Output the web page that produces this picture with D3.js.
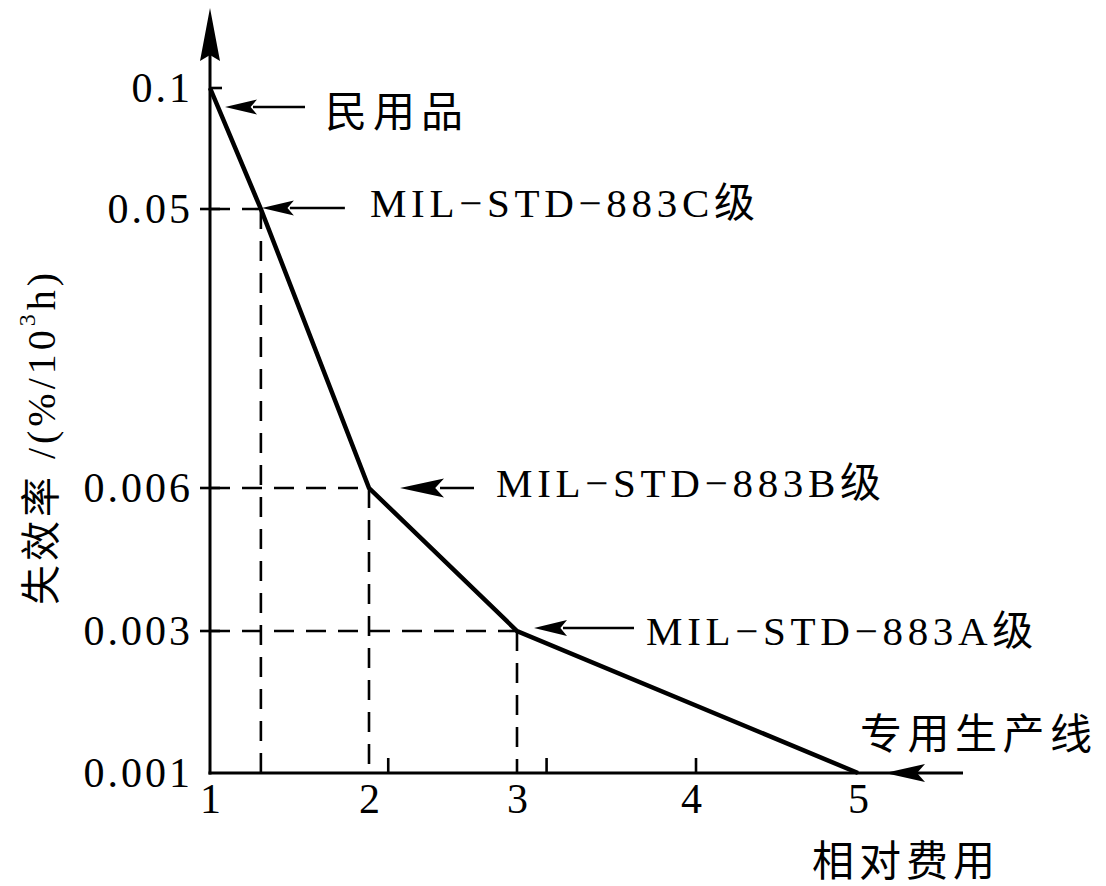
<!DOCTYPE html>
<html>
<head>
<meta charset="utf-8">
<script src="https://cdn.jsdelivr.net/npm/d3@7"></script>
<style>
  html, body { margin: 0; padding: 0; background: #fff; }
  svg { display: block; }
  text { font-family: "Liberation Serif", "Noto Sans CJK SC", serif; fill: #000; }
</style>
</head>
<body>
<svg id="chart" width="1106" height="886"></svg>
<script>
// ---- data ----
const costs = [1, 1.32, 2, 3, 5];
const failureRates = [0.1, 0.05, 0.006, 0.003, 0.001];
const grades = ["民用品", "MIL−STD−883C级", "MIL−STD−883B级", "MIL−STD−883A级", "专用生产线"];
const xTickValues = [1, 2, 3, 4, 5];
const xTickLabels = ["1", "2", "3", "4", "5"];
const xMinorTicks = [2.13, 3.17, 4.03];
const yTickValues = [0.1, 0.05, 0.006, 0.003, 0.001];
const yTickLabels = ["0.1", "0.05", "0.006", "0.003", "0.001"];
const guideIdx = [1, 2, 3];           // points with dashed guide lines
const xTitle = "相对费用";
const yTitle = "失效率 /(%/10";

// ---- layout ----
const svg = d3.select("#chart");
const x = d3.scaleLinear().domain(xTickValues).range([210, 369, 517, 691, 858]);
const y = d3.scaleLinear().domain([0.001, 0.003, 0.006, 0.05, 0.1]).range([773, 631, 488, 209, 88]);
const axisX0 = x(1), axisY0 = y(0.001);

const pts = costs.map((c, i) => ({ c, r: failureRates[i] }));

// dashed guides
const guides = svg.append("g").attr("stroke", "#000").attr("stroke-width", 2.6)
  .attr("stroke-dasharray", "20,12").attr("fill", "none");
guideIdx.forEach(i => {
  const p = pts[i];
  guides.append("line").attr("x1", axisX0).attr("x2", x(p.c)).attr("y1", y(p.r)).attr("y2", y(p.r));
  guides.append("line").attr("x1", x(p.c)).attr("x2", x(p.c)).attr("y1", y(p.r)).attr("y2", axisY0);
});

// y axis
const yAxis = d3.axisLeft(y).tickValues(yTickValues)
  .tickFormat((d, i) => yTickLabels[i]).tickSize(0).tickPadding(17);
const gy = svg.append("g").attr("transform", `translate(${axisX0},0)`).call(yAxis);
gy.select(".domain").remove();
gy.selectAll("text").style("font-size", "42px").style("letter-spacing", "3px")
  .attr("font-family", null);

// x axis
const xAxis = d3.axisBottom(x).tickValues(xTickValues)
  .tickFormat((d, i) => xTickLabels[i]).tickSize(0).tickPadding(10);
const gx = svg.append("g").attr("transform", `translate(0,${axisY0})`).call(xAxis);
gx.select(".domain").remove();
gx.selectAll("text").style("font-size", "42px").attr("font-family", null);

// axis lines
svg.append("line").attr("x1", axisX0).attr("x2", axisX0).attr("y1", axisY0 + 1.5).attr("y2", 40)
  .attr("stroke", "#000").attr("stroke-width", 3);
svg.append("line").attr("x1", axisX0 - 1.5).attr("x2", 963).attr("y1", axisY0).attr("y2", axisY0)
  .attr("stroke", "#000").attr("stroke-width", 3);
// y axis arrow head
svg.append("path")
  .attr("d", `M${axisX0},8 L${axisX0 + 10},61 L${axisX0},55 L${axisX0 - 10},61 Z`)
  .attr("fill", "#000");

// y ticks
yTickValues.forEach((v, i) => {
  if (v === 0.001) return;
  const x1 = v === 0.1 ? axisX0 : axisX0 - 10;
  const x2 = v === 0.1 ? axisX0 + 12 : axisX0 + 10;
  svg.append("line").attr("x1", x1).attr("x2", x2).attr("y1", y(v)).attr("y2", y(v))
    .attr("stroke", "#000").attr("stroke-width", 2.6);
});
// minor x tick marks
xMinorTicks.forEach(v => {
  svg.append("line").attr("x1", x(v)).attr("x2", x(v)).attr("y1", axisY0).attr("y2", axisY0 - 15)
    .attr("stroke", "#000").attr("stroke-width", 2.6);
});

// main line
svg.append("path").datum(pts)
  .attr("d", d3.line().x(d => x(d.c)).y(d => y(d.r)))
  .attr("fill", "none").attr("stroke", "#000").attr("stroke-width", 4.5)
  .attr("stroke-linejoin", "miter");

// annotations
const annLayout = [
  { dx: 15, dy: 19, len: 80, head: 32, half: 7.5, tx: 100, ty: 6, ls: 6 },
  { dx: 1, dy: -1, len: 83, head: 32, half: 7.5, tx: 108, ty: -5, ls: 4.7 },
  { dx: 31, dy: 0, len: 74, head: 44, half: 9.5, tx: 96, ty: -5, ls: 4.7 },
  { dx: 17, dy: -3, len: 100, head: 33, half: 8, tx: 112, ty: 3, ls: 4.7 },
  { dx: 27, dy: 0, len: 0, head: 40, half: 9, tx: -25, ty: -38, ls: 5.5 }
];
pts.forEach((p, i) => {
  const L = annLayout[i];
  const tx = x(p.c) + L.dx, ty = y(p.r) + L.dy;
  if (L.len > 0) {
    svg.append("line").attr("x1", tx + L.head - 4).attr("x2", tx + L.len).attr("y1", ty).attr("y2", ty)
      .attr("stroke", "#000").attr("stroke-width", 2.6);
  }
  svg.append("path")
    .attr("d", `M${tx},${ty} L${tx + L.head},${ty - L.half} L${tx + L.head * 0.8},${ty} L${tx + L.head},${ty + L.half} Z`)
    .attr("fill", "#000");
  const cjk = /^[\u4e00-\u9fff]+$/.test(grades[i]);
  svg.append("text").attr("x", tx + L.tx).attr("y", ty + L.ty)
    .attr("dominant-baseline", "central")
    .style("font-size", cjk ? "42px" : "41px")
    .style("letter-spacing", L.ls + "px")
    .text(grades[i]);
});

// axis titles
svg.append("text").attr("x", 812).attr("y", 862).attr("dominant-baseline", "central")
  .style("font-size", "42px").style("letter-spacing", "5px").text(xTitle);

const yt = svg.append("text").attr("transform", "translate(41,437) rotate(-90)")
  .attr("text-anchor", "middle").attr("dominant-baseline", "central")
  .style("font-size", "40px").style("letter-spacing", "4px");
yt.append("tspan").text(yTitle);
yt.append("tspan").attr("dy", -14).style("font-size", "24px").text("3");
yt.append("tspan").attr("dy", 14).text("h)");
</script>
</body>
</html>
